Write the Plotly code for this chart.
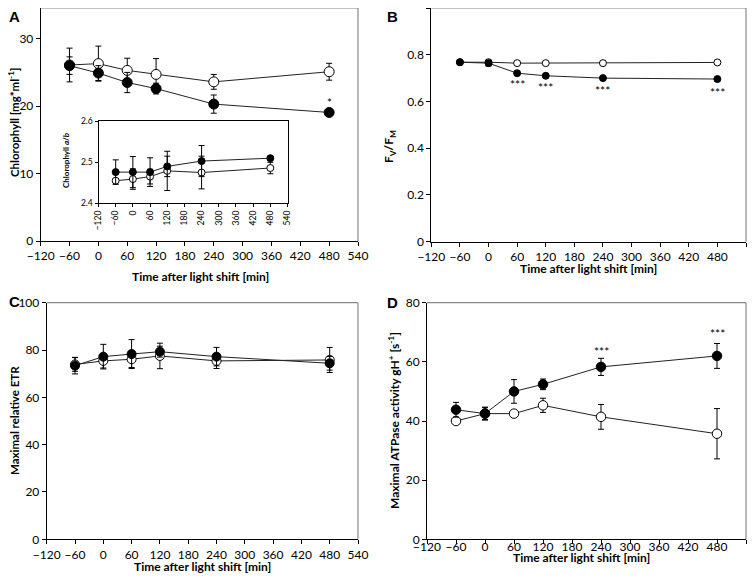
import plotly.graph_objects as go

time = [-60, 0, 60, 120, 240, 480]
xticks = list(range(-120, 541, 60))

# Panel A: chlorophyll
chl_open = [26.1, 26.3, 25.3, 24.7, 23.6, 25.1]
chl_open_err = [2.5, 2.6, 1.8, 2.35, 1.1, 1.25]
chl_black = [26.0, 24.9, 23.5, 22.6, 20.3, 19.06]
chl_black_err = [1.3, 1.1, 1.5, 0.8, 1.35, 0.3]

# Inset: chlorophyll a/b
ab_open = [2.455, 2.459, 2.465, 2.479, 2.475, 2.486]
ab_open_err = [0.004, 0.025, 0.018, 0.048, 0.04, 0.014]
ab_black = [2.476, 2.476, 2.476, 2.490, 2.503, 2.510]
ab_black_err = [0.03, 0.038, 0.035, 0.025, 0.038, 0.004]

# Panel B: Fv/Fm
fv_open = [0.768, 0.768, 0.764, 0.764, 0.764, 0.767]
fv_open_err = [0.005, 0.008, 0.004, 0.004, 0.004, 0.006]
fv_black = [0.768, 0.764, 0.721, 0.710, 0.700, 0.696]
fv_black_err = [0.005, 0.012, 0.006, 0.005, 0.006, 0.005]

# Panel C: ETR
etr_open = [73.9, 75.4, 76.1, 77.5, 75.4, 75.8]
etr_open_err = [2.9, 3.0, 3.5, 5.4, 3.2, 5.3]
etr_black = [73.4, 77.2, 78.3, 79.3, 77.2, 74.4]
etr_black_err = [3.5, 5.2, 6.1, 2.3, 3.9, 2.9]

# Panel D: ATPase
atp_open = [40.0, 42.5, 42.5, 45.3, 41.4, 35.7]
atp_open_err = [1.0, 2.0, 1.0, 2.4, 4.2, 8.5]
atp_black = [43.8, 42.5, 50.0, 52.4, 58.3, 62.0]
atp_black_err = [2.5, 2.2, 4.0, 1.8, 2.9, 4.2]

# significance marks
sigB_x = [60, 120, 240, 480]
sigB_y = [0.672, 0.658, 0.648, 0.638]
sigA_x = [480]
sigA_y = [20.5]
sigD_x = [240, 480]
sigD_y = [63.6, 69.5]

OFF = 8  # page body margin
W, H = 756 - OFF, 581 - OFF
FONT = "Lato, 'Open Sans', sans-serif"


def px(x):
    return min(1.0, max(0.0, (x - OFF) / W))


def py(y):
    return min(1.0, max(0.0, 1 - (y - OFF) / H))


fig = go.Figure()

panels = [
    dict(n="", xd=(40.7, 358), yd=(8, 241), yr=[0, 34.55], dt=10, ms=10, so=0,
         o=chl_open, oe=chl_open_err, b=chl_black, be=chl_black_err),
    dict(n="2", xd=(431.3, 746), yd=(8, 241.7), yr=[0, 1], dt=0.2, ms=7, so=0,
         o=fv_open, oe=fv_open_err, b=fv_black, be=fv_black_err),
    dict(n="3", xd=(46.7, 358), yd=(302.7, 539.3), yr=[0, 100], dt=20, ms=9, so=0,
         o=etr_open, oe=etr_open_err, b=etr_black, be=etr_black_err),
    dict(n="4", xd=(427, 746), yd=(302.7, 539.3), yr=[0, 80], dt=20, ms=9.5, so=-8,
         o=atp_open, oe=atp_open_err, b=atp_black, be=atp_black_err),
]

shapes = []
for p in panels:
    n = p["n"]
    xa = "x" + n
    ya = "y" + n
    for vals, errs, fill in [(p["o"], p["oe"], "white"), (p["b"], p["be"], "black")]:
        fig.add_trace(go.Scatter(
            x=time, y=vals, xaxis=xa, yaxis=ya, mode="lines+markers",
            line=dict(color="#222", width=1),
            marker=dict(size=p["ms"], color=fill, line=dict(color="black", width=1)),
            error_y=dict(type="data", array=errs, visible=True, color="black",
                         thickness=1, width=3),
            showlegend=False, hoverinfo="x+y", cliponaxis=False))
    fig.layout["xaxis" + n] = dict(
        domain=[px(p["xd"][0]), px(p["xd"][1])], anchor=ya, range=[-120, 540],
        tickvals=xticks, ticks="outside", ticklen=4, tickcolor="black",
        ticklabelstandoff=p["so"],
        showline=True, linecolor="black", linewidth=1, showgrid=False, zeroline=False,
        tickfont=dict(family=FONT, size=12, color="black"), automargin=False)
    fig.layout["yaxis" + n] = dict(
        domain=[py(p["yd"][1]), py(p["yd"][0])], anchor=xa, range=p["yr"],
        dtick=p["dt"], tick0=0, ticks="outside", ticklen=4, tickcolor="black",
        showline=True, linecolor="black", linewidth=1, showgrid=False, zeroline=False,
        tickfont=dict(family=FONT, size=12, color="black"), automargin=False)
    shapes.append(dict(type="line", xref=xa + " domain", yref=ya + " domain",
                       x0=0, x1=1, y0=1, y1=1, line=dict(color="#888", width=1.2)))
    shapes.append(dict(type="line", xref=xa + " domain", yref=ya + " domain",
                       x0=1, x1=1, y0=0, y1=1, line=dict(color="#888", width=1.2)))

# Inset (chlorophyll a/b)
for vals, errs, fill in [(ab_open, ab_open_err, "white"), (ab_black, ab_black_err, "black")]:
    fig.add_trace(go.Scatter(
        x=time, y=vals, xaxis="x5", yaxis="y5", mode="lines+markers",
        line=dict(color="#222", width=1),
        marker=dict(size=7, color=fill, line=dict(color="black", width=1)),
        error_y=dict(type="data", array=errs, visible=True, color="black",
                     thickness=1, width=3),
        showlegend=False, hoverinfo="x+y", cliponaxis=False))
fig.layout["xaxis5"] = dict(
    domain=[px(98.5), px(287.5)], anchor="y5", range=[-120, 540], tickvals=xticks,
    ticks="outside", ticklen=3, tickcolor="black", tickangle=-90,
    showline=True, mirror=True, linecolor="black", linewidth=1, showgrid=False,
    zeroline=False, tickfont=dict(family=FONT, size=8.5, color="black"), automargin=False)
fig.layout["yaxis5"] = dict(
    domain=[py(203.2), py(121.4)], anchor="x5", range=[2.4, 2.6], dtick=0.1, tick0=2.4,
    tickformat=".1f", ticks="outside", ticklen=3, tickcolor="black",
    showline=True, mirror=True, linecolor="black", linewidth=1, showgrid=False,
    zeroline=False, tickfont=dict(family=FONT, size=8.5, color="black"), automargin=False)

ann = []


def text(x, y, t, size=12, angle=0, family=FONT):
    ann.append(dict(xref="paper", yref="paper", x=px(x), y=py(y), text=t,
                    showarrow=False, textangle=angle, xanchor="center", yanchor="middle",
                    font=dict(family=family, size=size, color="black")))


# panel letters
for (lx, ly, l) in [(14, 17, "A"), (392, 17, "B"), (14, 301, "C"), (392, 302, "D")]:
    text(lx, ly, "<b>%s</b>" % l, size=15, family="Liberation Sans, Arial, sans-serif")

# axis titles
xt = "<b>Time after light shift [min]</b>"
text(200, 276, xt)
text(588, 268, xt)
text(202, 566, xt)
text(581, 557, xt)
text(14, 123, "<b>Chlorophyll [mg*ml<sup>-1</sup>]</b>", size=11.5, angle=-90)
text(389, 147, "<b>F<sub>V</sub>/F<sub>M</sub></b>", angle=-90)
text(14, 421, "<b>Maximal relative ETR</b>", size=11.5, angle=-90)
text(394, 420, "<b>Maximal ATPase activity gH<sup>+</sup> [s<sup>-1</sup>]</b>", angle=-90)
text(66, 160, "<b>Chlorophyll <i>a</i>/<i>b</i></b>", size=8, angle=-90)

# significance stars
for xs, ys, xr, yr, t in [(sigA_x, sigA_y, "x", "y", "*"),
                          (sigB_x, sigB_y, "x2", "y2", "***"),
                          (sigD_x, sigD_y, "x4", "y4", "***")]:
    for xv, yv in zip(xs, ys):
        ann.append(dict(xref=xr, yref=yr, x=xv, y=yv, text=t, showarrow=False,
                        xanchor="center", yanchor="middle",
                        font=dict(family=FONT, size=12, color="black")))

fig.update_layout(
    width=W, height=H, autosize=False,
    margin=dict(l=0, r=0, t=0, b=0),
    paper_bgcolor="white", plot_bgcolor="white",
    annotations=ann, shapes=shapes,
    font=dict(family=FONT, color="black"),
)

fig.write_html("out.html")
